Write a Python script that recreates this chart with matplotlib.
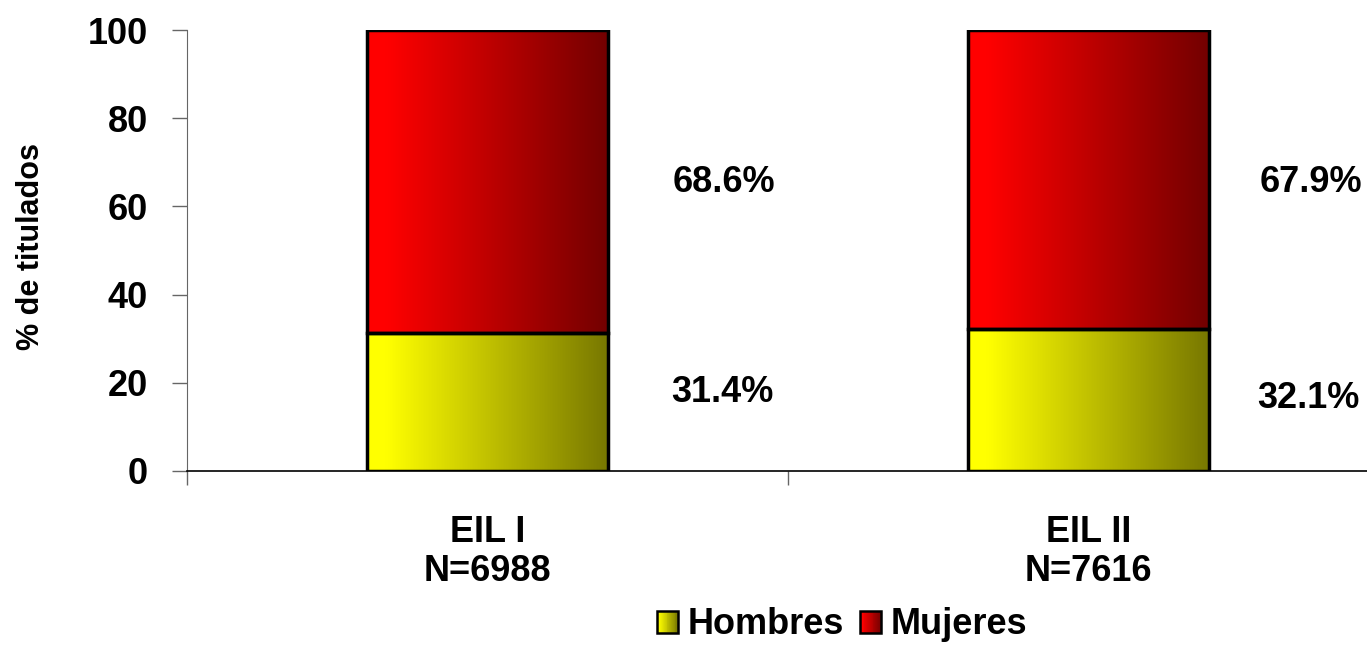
import numpy as np
import matplotlib
matplotlib.use("Agg")
import matplotlib.pyplot as plt
from matplotlib.patches import Rectangle
from matplotlib.legend_handler import HandlerBase
from matplotlib.colors import LinearSegmentedColormap

categories = ["EIL I\nN=6988", "EIL II\nN=7616"]
hombres = [31.4, 32.1]
mujeres = [68.6, 67.9]
series_names = ["Hombres", "Mujeres"]
yticks = [0, 20, 40, 60, 80, 100]

plt.rcParams['font.family'] = ['Liberation Sans', 'DejaVu Sans']
plt.rcParams['font.weight'] = 'bold'

cmap_y = LinearSegmentedColormap.from_list("y", [(0, (1, 1, 0)), (0.08, (1, 1, 0)), (1, (0.47, 0.47, 0.0))])
cmap_r = LinearSegmentedColormap.from_list("r", [(0, (1, 0, 0)), (0.08, (1, 0, 0)), (1, (0.45, 0.0, 0.0))])

FS = 26

fig = plt.figure(figsize=(13.67, 6.45), dpi=100)
ax = fig.add_axes([187/1367, 1-471/645, 1-187/1367, (471-30)/645])

x = np.arange(len(categories))
w = 0.40
b1 = ax.bar(x, hombres, width=w, color='none', edgecolor='black', linewidth=2.5, zorder=3)
b2 = ax.bar(x, mujeres, width=w, bottom=hombres, color='none', edgecolor='black', linewidth=2.5, zorder=3)

grad = np.linspace(0, 1, 256).reshape(1, -1)
for bars, cm in ((b1, cmap_y), (b2, cmap_r)):
    for p in bars:
        x0, y0 = p.get_x(), p.get_y()
        ax.imshow(grad, cmap=cm, aspect='auto', extent=[x0, x0 + p.get_width(), y0, y0 + p.get_height()],
                  zorder=2, interpolation='bicubic')

# value labels (placed to the right of each bar)
h_off = [0.39, 0.366]
m_off = [0.394, 0.37]
h_base = [15.6, 14.3]
for i in range(len(categories)):
    ax.text(x[i] + h_off[i], h_base[i], f"{hombres[i]:.1f}%", ha='center', va='baseline',
            fontsize=FS, fontweight='bold', clip_on=False)
    ax.text(x[i] + m_off[i], 63.3, f"{mujeres[i]:.1f}%", ha='center', va='baseline',
            fontsize=FS, fontweight='bold', clip_on=False)

ax.set_yticks(yticks)
ax.set_yticklabels([str(t) for t in yticks], fontsize=FS, fontweight='bold')
ax.tick_params(axis='y', length=11, width=1, color='#666666', pad=17)

ax.set_xticks(x)
ax.set_xticklabels(categories, fontsize=FS, fontweight='bold', linespacing=1.15)
ax.tick_params(axis='x', which='major', length=0, pad=32)
ax.set_xticks([-0.5, 0.5, 1.5], minor=True)
ax.tick_params(axis='x', which='minor', length=10, width=1, color='#666666')

ax.set_xlim(-0.5, 1.463)
ax.set_ylim(0, 100)

for s in ('top', 'right'):
    ax.spines[s].set_visible(False)
ax.spines['left'].set_color('#666666')
ax.spines['bottom'].set_color('black')
ax.spines['bottom'].set_linewidth(1.2)

fig.text(31/1367, 1-247/645, "% de titulados", rotation=90, ha='center', va='center',
         fontsize=22, fontweight='bold')


class GradHandler(HandlerBase):
    def __init__(self, cm):
        super().__init__()
        self.cm = cm

    def create_artists(self, legend, orig_handle, xdescent, ydescent, width, height, fontsize, trans):
        arts = []
        s = height * 0.85
        x0 = -xdescent + (width - s) / 2
        y0 = -ydescent + (height - s) / 2
        n = 24
        for k in range(n):
            r = Rectangle((x0 + k * s / n, y0), s / n + 0.3, s, facecolor=self.cm(k / (n - 1)),
                          edgecolor='none', transform=trans)
            arts.append(r)
        arts.append(Rectangle((x0, y0), s, s, facecolor='none', edgecolor='black', linewidth=1.8, transform=trans))
        return arts


h1 = Rectangle((0, 0), 1, 1)
h2 = Rectangle((0, 0), 1, 1)
fig.legend([h1, h2], series_names, loc='center', bbox_to_anchor=(841/1367, 1-625/645),
           ncol=2, frameon=False, prop={'size': FS, 'weight': 'bold'},
           handler_map={h1: GradHandler(cmap_y), h2: GradHandler(cmap_r)},
           handlelength=0.7, handletextpad=0.2, columnspacing=0.4,
           borderpad=0, borderaxespad=0)

fig.savefig("out.png", dpi=100)
